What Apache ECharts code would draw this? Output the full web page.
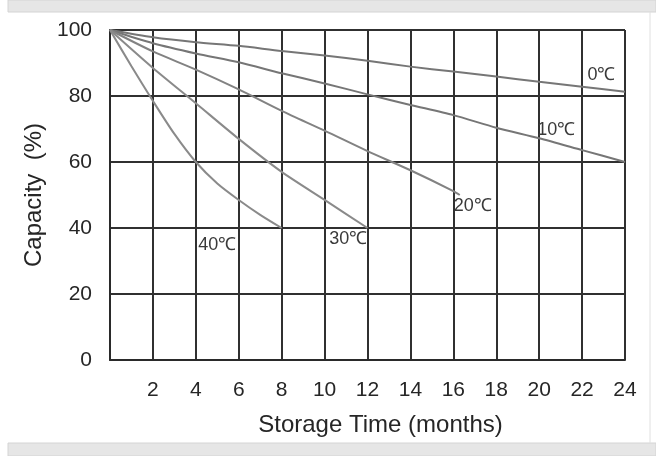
<!DOCTYPE html>
<html>
<head>
<meta charset="utf-8">
<script src="https://cdn.jsdelivr.net/npm/echarts@6/dist/echarts.min.js"></script>
<style>
html,body{margin:0;padding:0;background:#fff;}
#chart{width:656px;height:456px;}
</style>
</head>
<body>
<div id="chart"></div>
<script>
// Storage time (months) and remaining capacity (%) per temperature
const months0 = [0, 2, 4, 6, 8, 10, 12, 14, 16, 18, 20, 22, 24];
const cap0    = [100, 97.8, 96.3, 95.2, 93.6, 92.3, 90.7, 88.9, 87.4, 85.9, 84.3, 82.8, 81.3];
const months10 = [0, 2, 4, 6, 8, 10, 12, 14, 16, 18, 20, 22, 24];
const cap10    = [100, 96.0, 92.9, 90.2, 86.9, 83.8, 80.5, 77.3, 74.2, 70.4, 67.2, 63.6, 60];
const months20 = [0, 2, 4, 6, 8, 10, 12, 14, 16, 16.3];
const cap20    = [100, 93.5, 88, 82, 75.5, 69.5, 63.3, 57.5, 51.2, 50];
const months30 = [0, 2, 4, 6, 8, 10, 12];
const cap30    = [100, 88.5, 77.8, 67, 57, 48.5, 40];
const months40 = [0, 1, 2, 3, 4, 5, 6, 7, 8];
const cap40    = [100, 89, 78.5, 68.5, 60, 53.5, 48.5, 44, 40];
const seriesNames = ['0℃', '10℃', '20℃', '30℃', '40℃'];
// label anchor points (data coordinates) for curve captions
const labelMonths = [22.9, 20.8, 16.9, 11.1, 5.0];
const labelCaps   = [86.4, 69.8, 46.7, 36.8, 34.8];

const pairs = (xs, ys) => xs.map((x, i) => [x, ys[i]]);
const allData = [
  pairs(months0, cap0),
  pairs(months10, cap10),
  pairs(months20, cap20),
  pairs(months30, cap30),
  pairs(months40, cap40)
];
const lineColors = ['#767676', '#767676', '#828282', '#8a8a8a', '#8a8a8a'];

const chart = echarts.init(document.getElementById('chart'), null, {renderer: 'canvas'});
const FONT = '"Liberation Sans", Arial, sans-serif';

const series = allData.map((d, i) => ({
  name: seriesNames[i],
  type: 'line',
  data: d,
  smooth: 0.25,
  symbol: 'none',
  lineStyle: {color: lineColors[i], width: 2},
  z: 3,
  markPoint: {
    symbol: 'rect',
    symbolSize: 1,
    itemStyle: {color: 'rgba(0,0,0,0)'},
    label: {
      show: true,
      position: 'inside',
      formatter: seriesNames[i],
      fontSize: 18,
      color: '#3a3a3a',
      fontFamily: FONT
    },
    data: [{coord: [labelMonths[i], labelCaps[i]]}]
  }
}));

const option = {
  backgroundColor: '#ffffff',
  animation: false,
  grid: {left: 110, top: 30, right: 31, bottom: 96},
  xAxis: {
    type: 'value',
    min: 0, max: 24, interval: 2,
    axisLine: {show: true, lineStyle: {color: '#2a2a2a', width: 2}},
    axisTick: {show: false},
    splitLine: {show: true, lineStyle: {color: '#303030', width: 2}},
    axisLabel: {
      fontSize: 21, color: '#262626', margin: 20, fontFamily: FONT,
      formatter: v => (v === 0 ? '' : String(v))
    },
    name: 'Storage Time (months)',
    nameLocation: 'middle',
    nameGap: 53,
    nameTextStyle: {fontSize: 24, color: '#262626', fontFamily: FONT, padding: [0, 0, 0, 26]}
  },
  yAxis: {
    type: 'value',
    min: 0, max: 100, interval: 20,
    axisLine: {show: true, lineStyle: {color: '#2a2a2a', width: 2}},
    axisTick: {show: false},
    splitLine: {show: true, lineStyle: {color: '#303030', width: 2}},
    axisLabel: {fontSize: 21, color: '#262626', margin: 18, fontFamily: FONT, padding: [10, 0, 0, 0]},
    name: 'Capacity  (%)',
    nameLocation: 'middle',
    nameRotate: 90,
    nameGap: 64,
    nameTextStyle: {fontSize: 24, color: '#262626', fontFamily: FONT}
  },
  graphic: [
    {type: 'rect', shape: {x: 8, y: 0, width: 648, height: 12}, style: {fill: '#e6e6e6', stroke: '#d4d4d4', lineWidth: 1}, silent: true},
    {type: 'rect', shape: {x: 8, y: 443, width: 648, height: 13}, style: {fill: '#e6e6e6', stroke: '#d4d4d4', lineWidth: 1}, silent: true},
    {type: 'line', shape: {x1: 650, y1: 12, x2: 650, y2: 443}, style: {stroke: '#e0e0e0', lineWidth: 1}, silent: true}
  ],
  series: series
};
chart.setOption(option);
</script>
</body>
</html>
